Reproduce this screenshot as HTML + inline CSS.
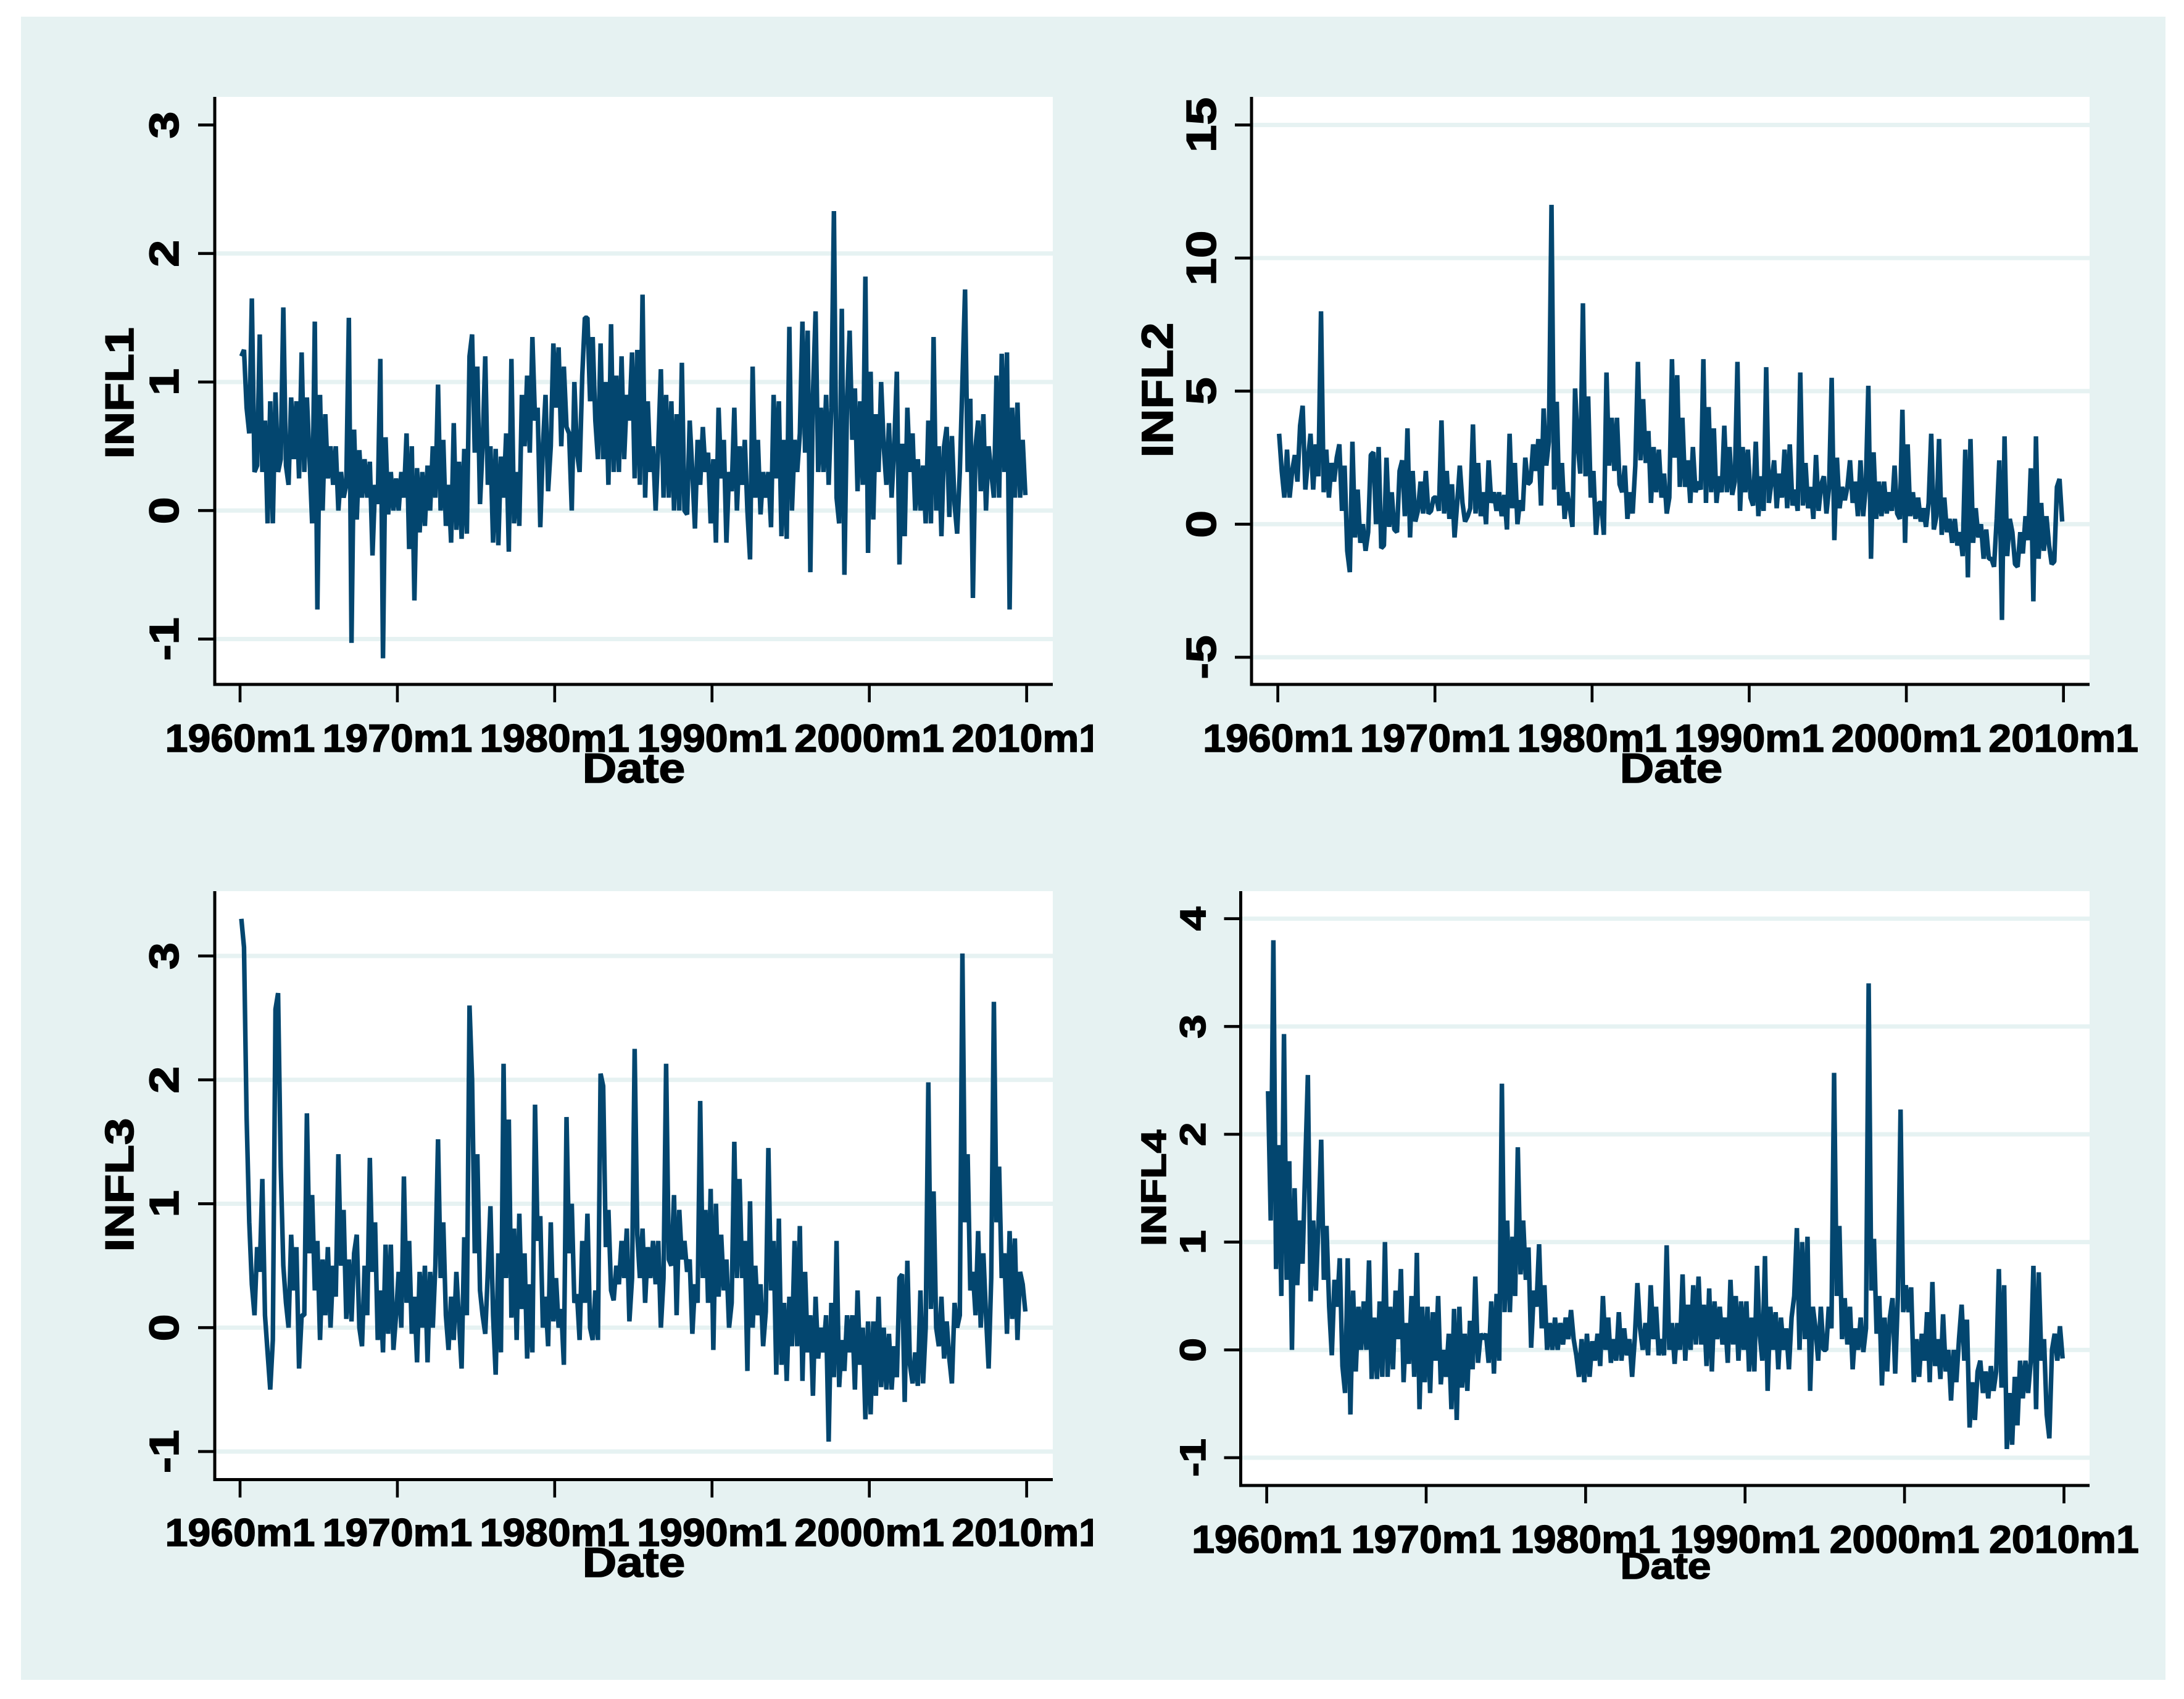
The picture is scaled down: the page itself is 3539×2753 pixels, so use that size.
<!DOCTYPE html>
<html lang="en">
<head>
<meta charset="utf-8">
<title>INFL1-INFL4 monthly series</title>
<style>
html,body{margin:0;padding:0;background:#fff;}
svg{display:block;}
text{font-family:"Liberation Sans",sans-serif;font-weight:700;fill:#000;stroke:#000;stroke-width:1.6px;}
</style>
</head>
<body>
<svg id="chart" xmlns="http://www.w3.org/2000/svg" width="3539" height="2753" viewBox="0 0 3539 2753">
  <rect x="0" y="0" width="3539" height="2753" fill="#ffffff"/>
  <rect x="34" y="27" width="3475" height="2695" fill="#e6f2f2"/>
  <defs>
    <clipPath id="clip-left-column"><rect x="0" y="0" width="1771" height="2753"/></clipPath>
  </defs>
</svg>
<script>
const infl1Values = [
1.2,1.25,.8,.6,1.65,.3,
.35,1.37,.3,.7,-.1,.85,
-.1,.92,.3,.4,1.58,.35,
.2,.88,.4,.85,.25,1.23,
.3,.88,.4,-.1,1.47,-.77,
.9,0,.75,.25,.5,.2,
.5,0,.3,.1,.2,1.5,
-1.03,.63,-.07,.47,.1,.4,
.1,.38,-.35,.2,.05,1.18,
-1.15,.57,-.03,.3,0,.25,
0,.3,.1,.6,-.3,.5,
-.7,.33,-.17,.3,-.12,.35,
0,.5,.1,.98,0,.55,
-.12,.2,-.25,.68,-.15,.38,
-.22,.48,-.18,1.2,1.37,.45,
1.12,.05,.5,1.2,.2,.5,
-.25,.48,-.27,.42,.1,.6,
-.32,1.18,-.1,.3,-.12,.9,
.5,1.05,.45,1.35,.7,.8,
-.13,.5,.9,.15,.5,1.3,
.8,1.27,.5,1.12,.65,.6,
0,1.0,.45,.3,1.05,1.5,
1.5,.85,1.35,.7,.4,1.3,
.4,1.0,.2,1.45,.3,1.05,
.3,1.2,.4,.9,.7,1.23,
.25,1.25,.2,1.68,.1,.85,
.3,.5,0,.5,1.1,.1,
.9,.1,.85,0,.75,0,
1.15,0,-.03,.7,.3,-.14,
.55,.2,.65,.3,.45,-.1,
.4,-.25,.8,.25,.55,-.25,
.3,.15,.8,0,.5,.2,
.55,0,-.38,1.12,.1,.55,
-.03,.3,.1,.3,-.13,.9,
.25,.85,-.2,.55,-.22,1.43,
0,.55,.3,.6,1.47,.45,
1.4,-.48,.9,1.55,.3,.8,
.3,.9,.2,.8,2.33,.1,
-.1,1.57,-.5,.85,1.4,.55,
.95,.15,.85,.2,1.82,-.33,
1.08,-.07,.75,.3,1.0,.5,
.2,.68,.1,.5,1.08,-.42,
.52,-.2,.8,.3,.6,0,
.4,0,.35,-.1,.7,-.1,
1.35,0,.5,-.2,.5,.65,
-.05,.58,.05,-.18,.3,1.0,
1.72,.3,.87,-.68,.5,.7,
.15,.75,0,.5,.3,.1,
1.05,.1,1.22,.3,1.23,-.77,
.8,.1,.84,.1,.55,.12
];
const infl2Values = [
3.4,2,1,2.8,1,2,
2.6,1.6,3.7,4.45,1.3,2.4,
3.4,1.3,3,1.8,8,1.2,
2.8,1,2.3,1.6,2.5,3,
.5,2.2,-1,-1.8,3.1,-.5,
1.3,-.7,0,-1,-.3,2.6,
2.7,0,2.9,-.9,-.8,2.5,
-.1,1.2,-.2,-.3,2,2.4,
.3,3.6,-.5,2,.1,.5,
1.6,.4,2,.4,.5,1,
1,.5,3.9,.4,2,.2,
1.5,-.5,.8,2.2,.8,.1,
.3,.6,3.75,.4,2.3,.3,
1.2,0,2.4,.8,1.2,.5,
1.2,.3,1.1,-.2,3.4,.6,
2.3,0,.9,.5,2.5,1.5,
1.6,3,2,3.2,.7,4.35,
2.2,3.1,12,1.3,4.6,.7,
2.3,.2,1.2,.6,-.1,5.1,
3,1.9,8.3,1.8,4.8,1,
2,-.4,.8,.8,-.4,5.7,
2.2,4,2,4,1.5,1.2,
2.2,.2,1.2,.4,2.2,6.1,
2.4,4.7,2.3,3.5,.8,2.9,
1.2,2.8,1,1.9,.4,1,
6.2,2.5,5.6,1.4,4,1.4,
2.4,.8,2.9,1.2,1.6,1.3,
6.2,.8,4.4,1.2,3.6,.8,
1.8,1.2,3.7,1.2,2.9,1.1,
1.6,6.1,.5,2.9,1.2,2.8,
1.0,.7,3.1,.3,1.8,.5,
5.9,.8,1.6,2.4,.6,1.9,
1,2.8,.6,3,.7,1.3,
.5,5.7,.7,2.3,.6,1.4,
.2,2.6,.5,1.5,1.8,.4,
1.4,5.5,-.6,2.5,.6,1.4,
.9,1.4,2.4,.8,1.6,.3,
2.4,.3,1.4,5.2,-1.3,2.7,
.2,1.6,.3,1.6,.4,1.2,
.5,2.2,.4,.2,4.3,-.7,
3,.3,1.2,.2,1.0,.1,
.6,-.1,.8,3.4,-.2,.3,
3.2,-.4,1,-.3,.2,-.7,
.2,-.8,-.3,-1.2,2.8,-2,
3.2,-.7,.6,-.5,0,-1.3,
-.2,-1.3,-1.3,-1.6,.2,2.4,
-3.6,3.3,-1.2,.2,-.3,-1.5,
-1.6,-.3,-1.1,.3,-.6,2.1,
-2.9,3.3,-1.3,.8,-1,.3,
-.8,-1.5,-1.4,1.4,1.7,.1
];
const infl3Values = [
3.3,3.07,1.7,.85,.35,.1,
.65,.45,1.2,.1,-.2,-.5,
-.1,2.57,2.7,1.3,.5,.2,
0,.75,.3,.65,-.33,.1,
.1,1.73,.6,1.07,.3,.7,
-.1,.55,.1,.65,0,.5,
.25,1.4,.5,.95,.07,.55,
.05,.6,.75,0,-.15,.5,
.1,1.37,.45,.85,-.1,.3,
-.2,.67,-.05,.67,-.18,.1,
.45,0,1.22,.2,.7,-.05,
.25,-.28,.45,0,.5,-.28,
.45,0,.5,1.52,.4,.85,
.1,-.18,.25,-.1,.45,.05,
-.33,.73,.1,2.6,2.0,.6,
1.4,.3,.1,-.05,.45,.98,
.1,-.38,.6,-.2,2.13,.4,
1.68,.08,.8,-.1,.92,.15,
.6,-.25,.35,-.2,1.8,.7,
.9,0,.25,-.15,.85,.05,
.4,0,.15,-.3,1.7,.6,
1.0,.2,.27,-.1,.7,.2,
.92,0,-.1,.3,-.1,2.05,
1.95,.65,.95,.3,.22,.5,
.35,.7,.4,.8,.05,.4,
2.25,.75,.4,.8,.2,.65,
.4,.7,.35,.7,0,.4,
2.13,.55,.5,1.07,.1,.95,
.55,.7,.45,.55,-.05,.35,
.2,1.83,.4,.95,.2,1.12,
-.18,1.0,.25,.75,.3,.55,
0,.2,1.5,.4,1.2,.4,
.7,-.35,1.02,0,.5,.1,
.35,-.15,.13,1.45,.3,.7,
-.38,.88,-.3,.2,-.43,.25,
-.15,.7,-.15,.82,-.43,.45,
-.2,.1,-.55,.25,-.25,0,
-.2,.1,-.92,.2,-.4,.7,
-.48,-.1,-.35,.1,-.2,.1,
-.5,.3,-.3,0,-.74,.05,
-.7,.05,-.55,.25,-.48,0,
-.5,-.05,-.5,-.15,-.4,.4,
.43,-.6,.54,-.3,-.45,-.2,
-.47,.3,-.45,0,1.98,.15,
1.1,0,-.15,.25,-.25,.05,
-.25,-.45,.2,0,.1,3.02,
.85,1.4,.3,.45,.1,.78,
0,.6,.1,-.33,.4,2.63,
.85,1.3,.4,.6,-.05,.78,
.07,.72,-.1,.45,.35,.13
];
const infl4Values = [
2.4,1.2,3.8,.75,1.9,.5,
2.93,.65,1.75,0,1.5,.6,
1.2,.8,1.7,2.55,.45,1.2,
.55,1.2,1.95,.65,1.15,.4,
-.05,.65,.4,.85,-.15,-.4,
.85,-.6,.55,-.2,.4,0,
.45,0,.83,-.27,.3,-.27,
.45,-.25,1.0,-.25,.4,-.18,
.55,.1,.75,-.3,.25,-.13,
.5,-.25,.9,-.55,.4,-.3,
.4,-.4,.35,-.1,.5,-.32,
0,-.25,.15,-.55,.38,-.65,
.4,-.35,.15,-.38,.27,-.18,
.68,-.12,.15,.1,.15,-.12,
.45,-.22,.52,-.1,2.47,.35,
1.2,.35,1.05,.5,1.88,.7,
1.2,.65,.95,.02,.55,.4,
.98,.2,.6,0,.25,0,
.3,0,.25,.05,.3,.1,
.37,.1,-.05,-.25,.1,-.3,
.15,-.25,.08,-.1,.15,-.15,
.5,0,.3,-.12,.1,-.1,
.35,-.1,.2,-.05,.1,-.25,
.1,.62,.2,0,.25,-.05,
.6,.1,.4,-.05,.1,-.05,
.97,0,.25,-.13,.25,0,
.7,-.1,.42,0,.6,.05,
.68,.05,.42,-.15,.57,-.2,
.45,.1,.4,.05,.3,-.12,
.65,.05,.5,-.1,.45,0,
.45,-.2,.3,-.2,.78,.15,
-.1,.87,-.38,.4,0,.35,
-.18,.3,0,.2,-.18,.3,
.5,1.13,0,1.0,.1,1.05,
-.38,.4,.2,-.1,.4,0,
0,.4,.2,2.57,.5,1.15,
.1,.48,.05,.4,-.18,.2,
0,.3,-.02,.2,3.4,.55,
1.03,.15,.5,-.33,.3,-.2,
.3,.48,-.22,.5,2.23,.35,
.6,.35,.58,-.3,.1,-.25,
.15,-.1,.35,-.3,.63,-.15,
.1,-.27,.33,-.2,0,-.47,
0,-.3,.1,.42,-.1,.28,
-.72,-.3,-.65,-.2,-.1,-.4,
-.2,-.45,-.15,-.38,-.2,.75,
-.35,.6,-.92,-.4,-.88,-.25,
-.7,-.1,-.45,-.1,-.4,-.1,
.78,-.55,.72,-.1,.1,-.6,
-.82,0,.15,-.1,.22,-.08
];
const xTickYears = [1960, 1970, 1980, 1990, 2000, 2010];
const xTickLabels = ['1960m1', '1970m1', '1980m1', '1990m1', '2000m1', '2010m1'];
const xAxisTitle = 'Date';
const infl1Ticks = [-1, 0, 1, 2, 3];
const infl1Grid = [-1, 0, 1, 2];
const infl2Ticks = [-5, 0, 5, 10, 15];
const infl2Grid = [-5, 0, 5, 10, 15];
const infl3Ticks = [-1, 0, 1, 2, 3];
const infl3Grid = [-1, 0, 1, 2, 3];
const infl4Ticks = [-1, 0, 1, 2, 3, 4];
const infl4Grid = [-1, 0, 1, 2, 3, 4];

const SVG_NS = 'http://www.w3.org/2000/svg';
const svg = document.getElementById('chart');

// Panel layout (pixels) kept apart from the data arrays.
const layouts = [
  {key:'infl1', title:'INFL1', values:infl1Values, ticks:infl1Ticks, grid:infl1Grid,
   left:348, right:1706, top:157, bottom:1109, x1960:389, x2010:1663.6, vLo:-1, pLo:1035.5, vHi:3, pHi:202.5,
   tickBase:1218, dateBase:1268, dateCx:1027, dateFs:68, dateSx:1.13,
   yLabelX:289, yFs:67, ySx:1.18, titleX:216, titleCy:637, titleFs:65, titleSx:1.18, clip:true},
  {key:'infl2', title:'INFL2', values:infl2Values, ticks:infl2Ticks, grid:infl2Grid,
   left:2028, right:3386, top:157, bottom:1109, x1960:2070.6, x2010:3343.7, vLo:-5, pLo:1065, vHi:15, pHi:202.5,
   tickBase:1218, dateBase:1268, dateCx:2708, dateFs:68, dateSx:1.13,
   yLabelX:1970, yFs:68, ySx:1.18, titleX:1900, titleCy:632, titleFs:71, titleSx:1.11, clip:false},
  {key:'infl3', title:'INFL3', values:infl3Values, ticks:infl3Ticks, grid:infl3Grid,
   left:348, right:1706, top:1444, bottom:2397.5, x1960:389, x2010:1663.6, vLo:-1, pLo:2352, vHi:3, pHi:1549,
   tickBase:2505, dateBase:2555, dateCx:1027, dateFs:68, dateSx:1.13,
   yLabelX:289, yFs:67, ySx:1.18, titleX:216, titleCy:1920, titleFs:65, titleSx:1.2, clip:true},
  {key:'infl4', title:'INFL4', values:infl4Values, ticks:infl4Ticks, grid:infl4Grid,
   left:2010.5, right:3386, top:1444, bottom:2407, x1960:2052.6, x2010:3344.5, vLo:-1, pLo:2362, vHi:4, pHi:1488.6,
   tickBase:2516, dateBase:2558, dateCx:2699, dateFs:60, dateSx:1.13,
   yLabelX:1953, yFs:58, ySx:1.2, titleX:1889, titleCy:1925, titleFs:57, titleSx:1.19, clip:false}
];

function make(tag, attrs, parent) {
  const el = document.createElementNS(SVG_NS, tag);
  for (const k in attrs) el.setAttribute(k, attrs[k]);
  parent.appendChild(el);
  return el;
}
function rotatedText(content, x, cy, fs, sx, parent) {
  const t = make('text', {transform:'translate(' + x + ' ' + cy + ') rotate(-90) scale(' + sx + ' 1)', 'text-anchor':'middle', 'font-size':fs}, parent);
  t.textContent = content;
  return t;
}
function stretchedText(content, cx, base, fs, sx, parent) {
  const t = make('text', {transform:'translate(' + cx + ' ' + base + ') scale(' + sx + ' 1)', 'text-anchor':'middle', 'font-size':fs}, parent);
  t.textContent = content;
  return t;
}

layouts.forEach(function (p) {
  const xScale = function (year) { return p.x1960 + (year - 1960) * (p.x2010 - p.x1960) / 50; };
  const yScale = function (v) { return p.pLo + (v - p.vLo) * (p.pHi - p.pLo) / (p.vHi - p.vLo); };

  const panel = make('g', {}, svg);
  
  

  const plot = make('rect', {x:p.left, y:p.top, width:p.right - p.left, height:p.bottom - p.top, fill:'#ffffff'}, panel);
  
  

  p.grid.forEach(function (v) {
    const g = make('line', {x1:p.left, x2:p.right, y1:yScale(v), y2:yScale(v), stroke:'#e6f2f2', 'stroke-width':7}, panel);
    
    
  });

  const pts = p.values.map(function (v, i) {
    const year = 1960 + (i * 2 + 1) / 12;
    return xScale(year).toFixed(1) + ',' + yScale(v).toFixed(1);
  }).join(' ');
  const series = make('polyline', {points:pts, fill:'none', stroke:'#03466f', 'stroke-width':7.4, 'stroke-linejoin':'bevel', 'stroke-linecap':'butt'}, panel);
  
  

  const yAxis = make('line', {x1:p.left, x2:p.left, y1:p.top, y2:p.bottom + 2.5, stroke:'#000', 'stroke-width':5}, panel);
  
  
  const xAxis = make('line', {x1:p.left - 2.5, x2:p.right, y1:p.bottom, y2:p.bottom, stroke:'#000', 'stroke-width':5}, panel);
  
  

  p.ticks.forEach(function (v) {
    const tk = make('line', {x1:p.left - 27, x2:p.left, y1:yScale(v), y2:yScale(v), stroke:'#000', 'stroke-width':4.7}, panel);
    
    
    const lb = rotatedText(String(v), p.yLabelX, yScale(v), p.yFs, p.ySx, panel);
    
    
  });

  const xLabels = make('g', p.clip ? {'clip-path':'url(#clip-left-column)'} : {}, panel);
  
  
  xTickYears.forEach(function (yr, i) {
    const tk = make('line', {x1:xScale(yr), x2:xScale(yr), y1:p.bottom, y2:p.bottom + 29, stroke:'#000', 'stroke-width':4.6}, panel);
    
    
    const lb = stretchedText(xTickLabels[i], xScale(yr), p.tickBase, 63, 1.05, xLabels);
    
    
  });

  const xt = stretchedText(xAxisTitle, p.dateCx, p.dateBase, p.dateFs, p.dateSx, panel);
  
  
  const yt = rotatedText(p.title, p.titleX, p.titleCy, p.titleFs, p.titleSx, panel);
  
  
});
</script>
</body>
</html>
